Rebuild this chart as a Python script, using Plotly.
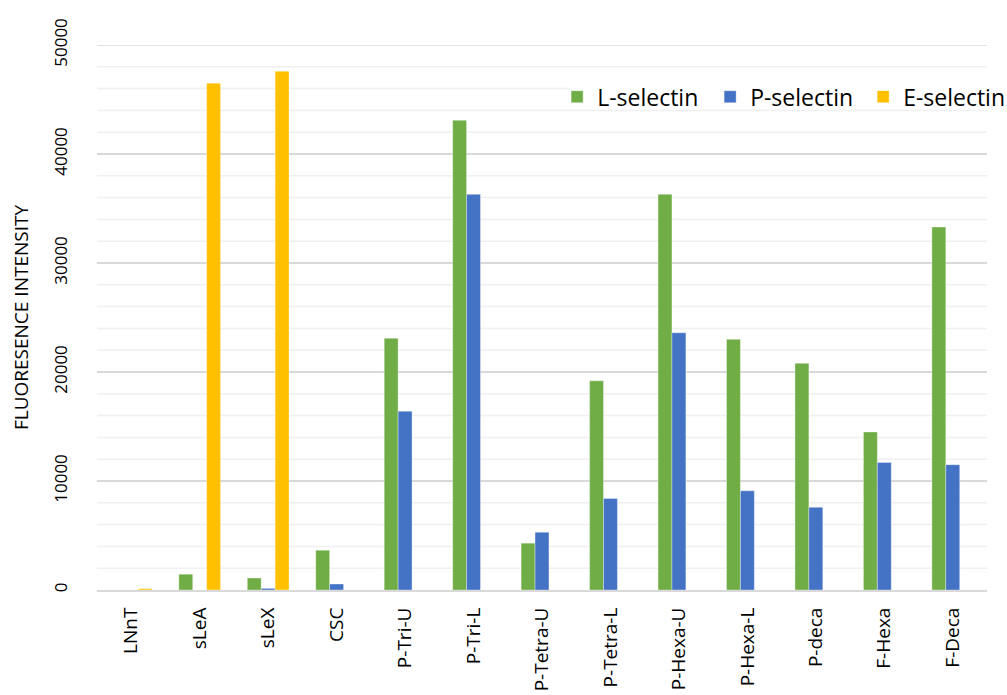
import plotly.graph_objects as go

categories = ["LNnT", "sLeA", "sLeX", "CSC", "P-Tri-U", "P-Tri-L", "P-Tetra-U",
              "P-Tetra-L", "P-Hexa-U", "P-Hexa-L", "P-deca", "F-Hexa", "F-Deca"]
l_selectin = [0, 1450, 1100, 3650, 23100, 43100, 4300, 19200, 36300, 23000, 20800, 14500, 33300]
p_selectin = [0, 0, 150, 550, 16400, 36300, 5300, 8400, 23600, 9100, 7600, 11700, 11500]
e_selectin = [120, 46500, 47600, 0, 0, 0, 0, 0, 0, 0, 0, 0, 0]

series = [
    ("L-selectin", l_selectin, "#70AD47"),
    ("P-selectin", p_selectin, "#4472C4"),
    ("E-selectin", e_selectin, "#FFC000"),
]

font_family = "Open Sans, Liberation Sans, sans-serif"
legend_left = 0.531  # paper x where the legend row begins

fig = go.Figure()
for name, vals, color in series:
    fig.add_trace(go.Bar(
        x=categories, y=vals, name=name,
        marker=dict(color=color, line=dict(color="rgba(255,255,255,0.6)", width=0.6)),
    ))

# light gridlines every 2000 between the labelled ones;
# the one running behind the legend row stops where the legend starts
minor_vals = [v for v in range(2000, 50000, 2000) if v % 10000]
for v in minor_vals:
    x1 = legend_left if v == 46000 else 1
    fig.add_shape(type="line", xref="paper", yref="y", x0=0, x1=x1, y0=v, y1=v,
                  line=dict(color="#F0F0F0", width=1.5), layer="below")
# top border gridline at 50000
fig.add_shape(type="line", xref="paper", yref="y", x0=0, x1=1, y0=50000, y1=50000,
              line=dict(color="#D9D9D9", width=1.5), layer="below")

fig.update_layout(
    width=1007, height=695,
    margin=dict(l=97, r=20, t=45, b=105, autoexpand=False),
    plot_bgcolor="white", paper_bgcolor="white",
    barmode="group", bargap=0.39, bargroupgap=0,
    font=dict(family=font_family, size=16, color="#000000"),
    legend=dict(
        orientation="h", x=0.517, xanchor="left", y=0.905, yanchor="middle",
        font=dict(size=23, color="#000000"), bgcolor="rgba(0,0,0,0)",
        entrywidth=108, entrywidthmode="pixels", traceorder="normal",
    ),
    xaxis=dict(
        tickangle=-90, showgrid=False, showline=True, linecolor="#D9D9D9", linewidth=2,
        ticks="", tickfont=dict(size=19, color="#000000"), automargin=False,
        ticklabelstandoff=8,
    ),
    yaxis=dict(
        range=[0, 50000], tickvals=[0, 10000, 20000, 30000, 40000, 50000],
        ticktext=["0", "10000", "20000", "30000", "40000", "50000"],
        tickangle=-90, tickfont=dict(size=17, color="#000000"), showgrid=True,
        gridcolor="#D9D9D9", gridwidth=1.5, zeroline=False, ticks="", automargin=False,
        ticklabelstandoff=26,
        title=dict(text="FLUORESENCE INTENSITY", font=dict(size=19, color="#000000"),
                   standoff=14),
    ),
)

fig.write_html("out.html")
